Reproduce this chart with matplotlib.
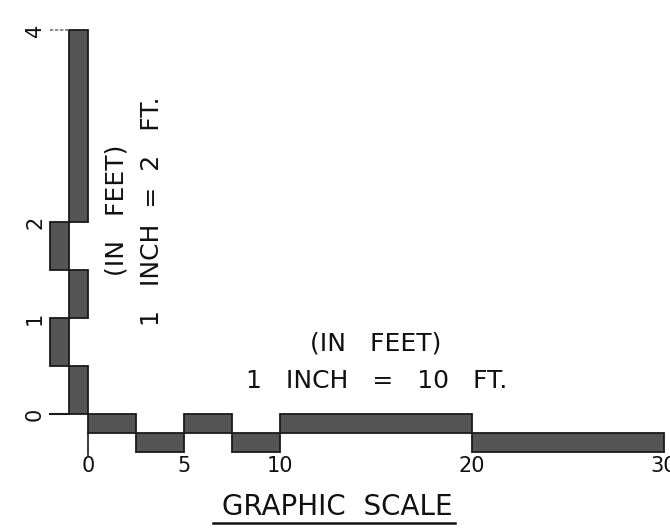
import matplotlib
matplotlib.use("Agg")
import matplotlib.pyplot as plt
from matplotlib.patches import Rectangle

# ---- data ----
h_edges = [0, 2.5, 5, 7.5, 10, 20, 30]          # feet, horizontal scale segments
h_levels = ["upper", "lower", "upper", "lower", "upper", "lower"]
h_ticks = [0, 5, 10, 20, 30]
h_tick_labels = ["0", "5", "10", "20", "30"]
h_ft_per_inch = 10

v_edges = [0, 0.5, 1, 1.5, 2, 4]                 # feet, vertical scale segments
v_sides = ["right", "left", "right", "left", "right"]
v_ticks = [0, 1, 2, 4]
v_tick_labels = ["0", "1", "2", "4"]
v_ft_per_inch = 2

h_title = "(IN   FEET)"
h_scale_text = "1   INCH   =   10   FT."
v_title = "(IN   FEET)"
v_scale_text = "1   INCH  =  2   FT."
main_title = "GRAPHIC  SCALE"

# ---- figure ----
W, H, DPI = 670, 528, 100
PX = 192.0  # pixels per drawing inch
fig = plt.figure(figsize=(W / DPI, H / DPI), dpi=DPI)
ax = fig.add_axes([0, 0, 1, 1])
ax.set_xlim(-88 / PX, (W - 88) / PX)
ax.set_ylim(-(H - 414) / PX, 414 / PX)
ax.axis("off")

T = 0.1
face = "#555555"
edge = "#1a1a1a"
font = dict(family=["DejaVu Sans"], color="#111111")

# horizontal bars
for i, lvl in enumerate(h_levels):
    x0 = h_edges[i] / h_ft_per_inch
    x1 = h_edges[i + 1] / h_ft_per_inch
    y0 = -T if lvl == "upper" else -2 * T
    ax.add_patch(Rectangle((x0, y0), x1 - x0, T, facecolor=face, edgecolor=edge, lw=1.3))

# vertical bars
for i, side in enumerate(v_sides):
    y0 = v_edges[i] / v_ft_per_inch
    y1 = v_edges[i + 1] / v_ft_per_inch
    x0 = -T if side == "right" else -2 * T
    ax.add_patch(Rectangle((x0, y0), T, y1 - y0, facecolor=face, edgecolor=edge, lw=1.3))

# tick lines
ax.plot([-2 * T, -T], [0, 0], color=edge, lw=1.5)
ax.plot([-2 * T, -T], [v_ticks[-1] / v_ft_per_inch] * 2, color="#777777", lw=1.2, ls=(0, (2, 1)))
ax.plot([0, 0], [-T, -2.15 * T], color=edge, lw=1.2)

# tick labels
for t, lab in zip(h_ticks, h_tick_labels):
    ax.text(t / h_ft_per_inch, -0.27, lab, ha="center", va="center", fontsize=15, **font)
for t, lab in zip(v_ticks, v_tick_labels):
    ax.text(-0.276, t / v_ft_per_inch, lab, ha="center", va="center", rotation=90, fontsize=15, **font)

# texts
ax.text(1.497, 0.365, h_title, ha="center", va="center", fontsize=18, **font)
ax.text(1.505, 0.172, h_scale_text, ha="center", va="center", fontsize=18, **font)
ax.text(0.151, 1.0625, v_title, ha="center", va="center", rotation=90, fontsize=18, **font)
ax.text(0.333, 1.057, v_scale_text, ha="center", va="center", rotation=90, fontsize=18, **font)
ax.text(1.297, -0.484, main_title, ha="center", va="center", fontsize=20, **font)
ax.plot([0.651, 1.911], [-0.568, -0.568], color="#111111", lw=1.8)

fig.savefig("out.png", dpi=DPI, facecolor="white")
